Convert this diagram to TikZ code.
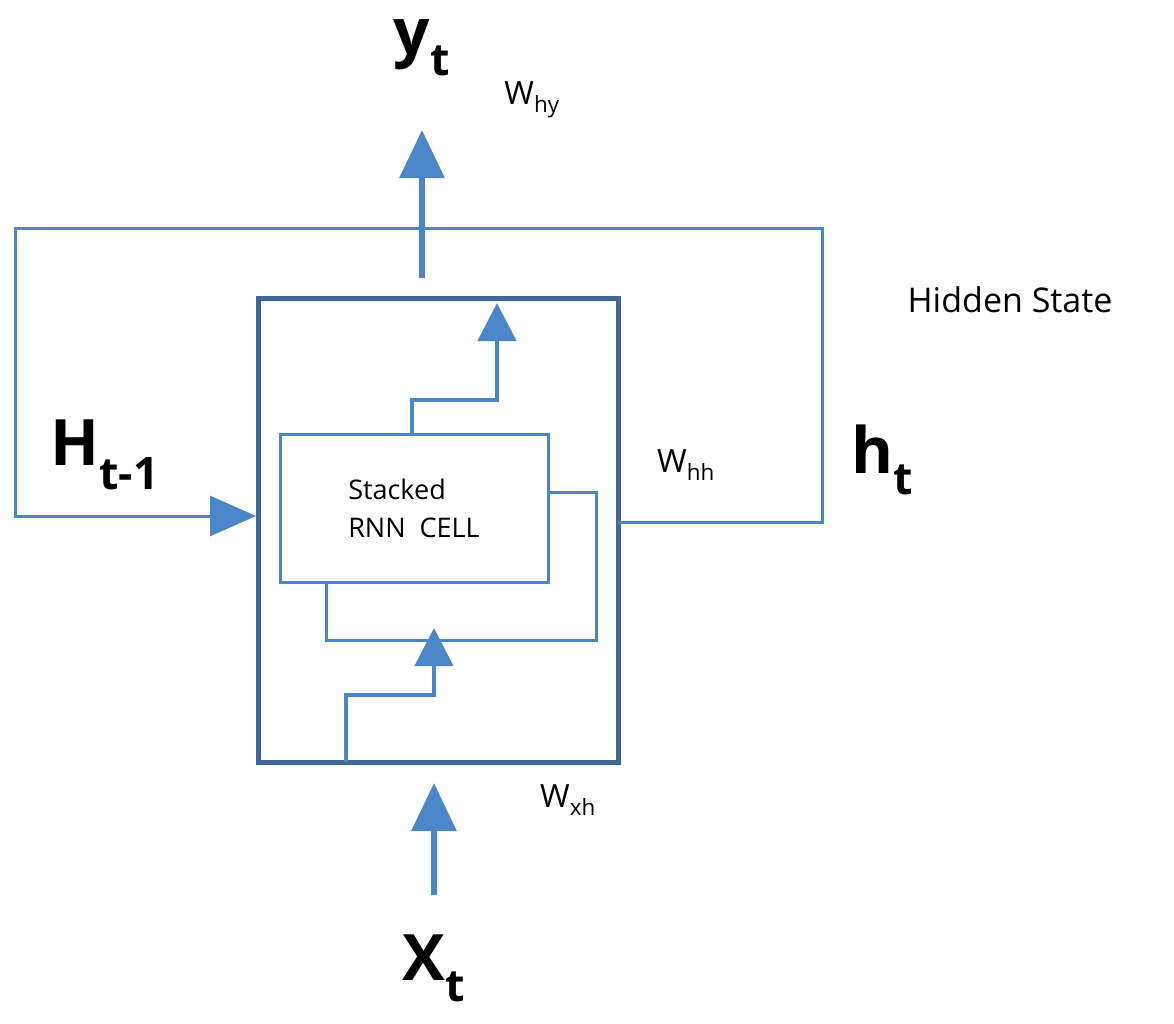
\documentclass[tikz,border=0pt]{standalone}
\usepackage{fontspec}
\setmainfont{Open Sans}
\usetikzlibrary{arrows.meta}
\definecolor{lb}{HTML}{4A86C8}
\definecolor{db}{HTML}{3F6896}
\begin{document}
\begin{tikzpicture}[x=1pt,y=-1pt,
  thin line/.style={draw=lb,line width=3pt},
  big arrow/.style={draw=lb,line width=6pt,-{Triangle[length=48pt,width=44pt]}},
  mid arrow/.style={draw=lb,line width=4.5pt,-{Triangle[length=38pt,width=38pt]}},
  lbl/.style={font=\fontsize{32}{36}\selectfont},
  big/.style={font=\bfseries\fontsize{64}{70}\selectfont}]
\useasboundingbox (0,0) rectangle (1174,1023);
% outer box
\node[draw=db,line width=5pt,minimum width=360pt,minimum height=464pt,inner sep=0] (outer) at (438,530) {};
% inner box
\node[thin line,minimum width=268pt,minimum height=148pt,inner sep=0,align=left,font=\fontsize{27}{38}\selectfont] (cell) at (414,508) {Stacked\\RNN\ \ CELL};
% inner feedback
\coordinate (f1) at (548,492);
\draw[thin line] (f1) -- (596,492) -- (596,640) -- (326,640) -- (326,582);
% lower inner arrow
\coordinate (a0) at (346,762);
\coordinate (a1) at (434,628);
\draw[mid arrow] (a0) -- (346,695) -- (434,695) -- (a1);
% upper inner arrow
\coordinate (b0) at (412,434);
\coordinate (b1) at (497,303);
\draw[mid arrow] (b0) -- (412,400) -- (497,400) -- (b1);
% outer loop
\coordinate (o0) at (618,522);
\coordinate (o1) at (256,516);
\draw[thin line,-{Triangle[length=46pt,width=40pt]}] (o0) -- (822,522) -- (822,228) -- (15,228) -- (15,516) -- (o1);
% output arrow
\coordinate (u0) at (422,278);
\coordinate (u1) at (422,130);
\draw[big arrow] (u0) -- (u1);
% input arrow
\coordinate (i0) at (434,895);
\coordinate (i1) at (434,783);
\draw[big arrow] (i0) -- (i1);
% labels
\node[big] (yt) at (422,48) {y\textsubscript{t}};
\node[lbl] (why) at (532,100) {W\textsubscript{hy}};
\node[lbl,font=\fontsize{34}{38}\selectfont] (hs) at (1010,300) {Hidden State};
\node[big] (hm) at (105,455) {H\textsubscript{t-1}};
\node[lbl] (whh) at (686,465) {W\textsubscript{hh}};
\node[big] (ht) at (882,460) {h\textsubscript{t}};
\node[lbl] (wxh) at (568,800) {W\textsubscript{xh}};
\node[big] (xt) at (434,968) {X\textsubscript{t}};
\end{tikzpicture}
\end{document}
